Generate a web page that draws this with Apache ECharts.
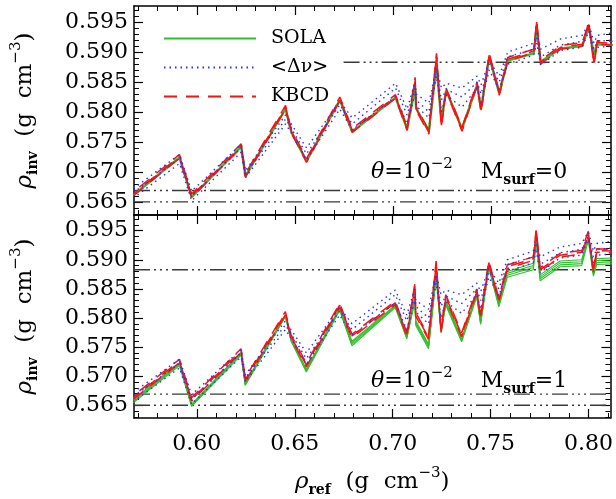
<!DOCTYPE html>
<html><head><meta charset="utf-8">
<script src="https://cdn.jsdelivr.net/npm/echarts@6/dist/echarts.min.js"></script>
<style>html,body{margin:0;padding:0;background:#fff}#c{width:616px;height:499px}</style>
</head><body><div id="c"></div>
<script>
// reference density nodes (g cm^-3)
const rhoRef = [0.5675,0.5911,0.5973,0.6226,0.6247,0.6452,0.6481,0.6559,0.6729,0.6792,
  0.7013,0.7072,0.7113,0.7118,0.7183,0.7222,0.7247,0.7271,0.7352,0.7429,
  0.7449,0.7491,0.7542,0.7585,0.7718,0.7733,0.7753,0.7855,0.7965,0.7999,
  0.8025,0.8042,0.8120];
// SOLA, M_surf = 0
const solaTop = [0.5661,0.5724,0.5658,0.5742,0.5693,0.5805,0.5767,0.5718,0.5820,0.5767,
  0.5824,0.5772,0.5840,0.5806,0.5768,0.5877,0.5785,0.5836,0.5772,0.5845,
  0.5805,0.5892,0.5831,0.5886,0.5898,0.5940,0.5884,0.5906,0.5910,0.5942,
  0.5896,0.5913,0.5912];
// SOLA, M_surf = 1 (upper solution) and spread of the family of solutions
const solaBot = [0.5660,0.5723,0.5652,0.5741,0.5688,0.5806,0.5765,0.5712,0.5818,0.5760,
  0.5822,0.5770,0.5835,0.5795,0.5755,0.5875,0.5780,0.5830,0.5765,0.5842,
  0.5795,0.5890,0.5825,0.5880,0.5894,0.5938,0.5874,0.5898,0.5900,0.5940,
  0.5880,0.5902,0.5903];
const solaBotSpread = [0.0006,0.0005,0.0004,0.0005,0.0004,0.0004,0.0005,0.0005,0.0005,0.0008,
  0.0004,0.0006,0.0006,0.0008,0.0008,0.0005,0.0006,0.0008,0.0006,0.0006,
  0.0006,0.0004,0.0006,0.0010,0.0011,0.0008,0.0010,0.0010,0.0010,0.0006,
  0.0008,0.0010,0.0010];
// KBCD
const kbcd = [0.5663,0.5726,0.5660,0.5744,0.5694,0.5808,0.5768,0.5719,0.5822,0.5769,
  0.5826,0.5772,0.5855,0.5806,0.5766,0.5895,0.5778,0.5837,0.5771,0.5847,
  0.5803,0.5895,0.5831,0.5888,0.5902,0.5950,0.5883,0.5908,0.5913,0.5946,
  0.5882,0.5916,0.5915];
const kbcdSpread = 0.0003;
// <Δν> : three solutions
const dnuHi = [0.5672,0.5729,0.5668,0.5746,0.5702,0.5795,0.5780,0.5740,0.5818,0.5790,
  0.5848,0.5805,0.5850,0.5830,0.5815,0.5875,0.5840,0.5848,0.5840,0.5860,
  0.5845,0.5885,0.5860,0.5900,0.5915,0.5935,0.5905,0.5922,0.5928,0.5948,
  0.5915,0.5928,0.5932];
const dnuMid = [0.5665,0.5722,0.5660,0.5740,0.5696,0.5788,0.5773,0.5730,0.5812,0.5780,
  0.5840,0.5795,0.5840,0.5820,0.5800,0.5870,0.5820,0.5838,0.5825,0.5850,
  0.5830,0.5880,0.5850,0.5892,0.5905,0.5925,0.5892,0.5912,0.5918,0.5940,
  0.5905,0.5918,0.5920];
const dnuLo = [0.5656,0.5714,0.5652,0.5733,0.5690,0.5780,0.5765,0.5720,0.5805,0.5770,
  0.5826,0.5780,0.5830,0.5810,0.5790,0.5860,0.5800,0.5828,0.5808,0.5840,
  0.5815,0.5870,0.5838,0.5880,0.5895,0.5915,0.5878,0.5903,0.5908,0.5935,
  0.5895,0.5908,0.5910];
// horizontal reference levels (dash-dot) and where they start in each panel
const refLevels = [0.5650, 0.5669, 0.5883];
const refStartTop = [0.5679, 0.5679, 0.6748];
const refStartBot = [0.5679, 0.5679, 0.5679];
const xTicks = [0.60, 0.65, 0.70, 0.75, 0.80];
const yTicks = [0.565, 0.570, 0.575, 0.580, 0.585, 0.590, 0.595];
const thetaLabel = '10';
const msurfValues = ['0', '1'];

const X_MIN = 0.5679, X_MAX = 0.8112, Y_MIN = 0.5628, Y_MAX = 0.5977;
const FONT = 'DejaVu Serif';

function minors(from, to, step, majors) {
  const out = [];
  for (let v = from; v <= to + 1e-9; v += step) {
    const r = Math.round(v * 10000) / 10000;
    if (!majors.some(m => Math.abs(m - r) < 1e-7)) out.push(r);
  }
  return out;
}
const xMinor = minors(0.57, 0.81, 0.01, xTicks);
const yMinor = minors(0.563, 0.597, 0.001, yTicks);

const grids = [
  {left: 134, top: 6, width: 477, height: 209},
  {left: 134, top: 215, width: 477, height: 209}
];

const nameRich = {
  rho: {fontFamily: FONT, fontSize: 23, fontStyle: 'italic', lineHeight: 32, verticalAlign: 'middle'},
  sub: {fontFamily: FONT, fontSize: 14, fontWeight: 'bold', lineHeight: 14, verticalAlign: 'bottom', padding: [0,0,1,0]},
  n: {fontFamily: FONT, fontSize: 23, lineHeight: 32, verticalAlign: 'middle'},
  sup: {fontFamily: FONT, fontSize: 15, lineHeight: 15, verticalAlign: 'top'}
};

const xAxes = [], yAxes = [];
for (let g = 0; g < 2; g++) {
  const base = {type: 'value', gridIndex: g, min: X_MIN, max: X_MAX, splitLine: {show: false}, axisPointer: {show: false}};
  xAxes.push(Object.assign({}, base, {
    position: 'bottom',
    axisLine: {show: true, onZero: false, lineStyle: {color: '#000', width: 1.5}},
    axisTick: {show: true, inside: true, length: 9, customValues: xTicks, lineStyle: {color: '#000', width: 1.2}},
    axisLabel: {show: g === 1, customValues: xTicks, margin: 15, color: '#000', fontFamily: FONT, fontSize: 22,
      formatter: v => v.toFixed(2)},
    name: g === 1 ? '{rho|ρ}{sub|ref}{n|  (g  cm}{sup|−3}{n|)}' : '',
    nameLocation: 'middle', nameGap: 48,
    nameTextStyle: {color: '#000', rich: nameRich}
  }));
  xAxes.push(Object.assign({}, base, {
    position: 'bottom', axisLine: {show: false, onZero: false},
    axisTick: {show: true, inside: true, length: 5, customValues: xMinor, lineStyle: {color: '#000', width: 1}},
    axisLabel: {show: false}
  }));
  xAxes.push(Object.assign({}, base, {
    position: 'top',
    axisLine: {show: true, onZero: false, lineStyle: {color: '#000', width: 1.5}},
    axisTick: {show: true, inside: true, length: 9, customValues: xTicks, lineStyle: {color: '#000', width: 1.2}},
    axisLabel: {show: false}
  }));
  xAxes.push(Object.assign({}, base, {
    position: 'top', axisLine: {show: false, onZero: false},
    axisTick: {show: true, inside: true, length: 5, customValues: xMinor, lineStyle: {color: '#000', width: 1}},
    axisLabel: {show: false}
  }));

  const ybase = {type: 'value', gridIndex: g, min: Y_MIN, max: Y_MAX, splitLine: {show: false}, axisPointer: {show: false}};
  yAxes.push(Object.assign({}, ybase, {
    position: 'left',
    axisLine: {show: true, onZero: false, lineStyle: {color: '#000', width: 1.5}},
    axisTick: {show: true, inside: true, length: 9, customValues: yTicks, lineStyle: {color: '#000', width: 1.2}},
    axisLabel: {show: true, customValues: yTicks, margin: 6, color: '#000', fontFamily: FONT, fontSize: 22,
      formatter: v => v.toFixed(3)},
    name: '{rho|ρ}{sub|inv}{n|  (g  cm}{sup|−3}{n|)}',
    nameLocation: 'middle', nameRotate: 90, nameGap: 93,
    nameTextStyle: {color: '#000', rich: nameRich}
  }));
  yAxes.push(Object.assign({}, ybase, {
    position: 'left', axisLine: {show: false, onZero: false},
    axisTick: {show: true, inside: true, length: 5, customValues: yMinor, lineStyle: {color: '#000', width: 1}},
    axisLabel: {show: false}
  }));
  yAxes.push(Object.assign({}, ybase, {
    position: 'right',
    axisLine: {show: true, onZero: false, lineStyle: {color: '#000', width: 1.5}},
    axisTick: {show: true, inside: true, length: 9, customValues: yTicks, lineStyle: {color: '#000', width: 1.2}},
    axisLabel: {show: false}
  }));
  yAxes.push(Object.assign({}, ybase, {
    position: 'right', axisLine: {show: false, onZero: false},
    axisTick: {show: true, inside: true, length: 5, customValues: yMinor, lineStyle: {color: '#000', width: 1}},
    axisLabel: {show: false}
  }));
}

const GREEN = '#2fc02f', RED = '#ff1010', BLUE = '#2233ff', REFC = '#3a3a3a';
function mk(name, vals, panel, style, z) {
  return {
    type: 'line', name: name, xAxisIndex: 4 * panel, yAxisIndex: 4 * panel,
    data: rhoRef.map((x, i) => [x, vals[i]]),
    symbol: 'none', showSymbol: false, silent: true, animation: false, clip: true, z: z,
    itemStyle: {color: style.color},
    lineStyle: style
  };
}
const series = [];
for (let p = 0; p < 2; p++) {
  const starts = p === 0 ? refStartTop : refStartBot;
  refLevels.forEach((lv, k) => {
    series.push({
      type: 'line', xAxisIndex: 4 * p, yAxisIndex: 4 * p, symbol: 'none', silent: true, animation: false, z: 1,
      data: [[starts[k], lv], [X_MAX, lv]],
      lineStyle: {color: REFC, width: 1.4, type: [16, 4, 2, 4, 2, 4, 2, 4]}
    });
  });
}
// SOLA
series.push(mk('SOLA', solaTop, 0, {color: GREEN, width: 2.4, type: 'solid'}, 2));
for (let k = 0; k < 4; k++) {
  series.push(mk('SOLA', solaBot.map((v, i) => v - solaBotSpread[i] * k / 3), 1,
    {color: GREEN, width: 1.1, type: 'solid'}, 2));
}
// KBCD
for (let p = 0; p < 2; p++) {
  [-1, 0, 1].forEach((k, j) => {
    series.push(mk('KBCD', kbcd.map(v => v + k * kbcdSpread), p,
      {color: RED, width: 1.5, type: [13, 9], dashOffset: j * 7}, 3));
  });
}
// <Δν>
for (let p = 0; p < 2; p++) {
  [dnuHi, dnuMid, dnuLo].forEach(arr => {
    series.push(mk('<Δν>', arr, p, {color: BLUE, width: 1.4, type: [1.5, 4]}, 4));
  });
}

const annRich = {
  th: {fontFamily: FONT, fontSize: 22, fontStyle: 'italic', lineHeight: 30, verticalAlign: 'middle'},
  n: {fontFamily: FONT, fontSize: 22, lineHeight: 30, verticalAlign: 'middle'},
  sup: {fontFamily: FONT, fontSize: 15, lineHeight: 15, verticalAlign: 'top'},
  sub: {fontFamily: FONT, fontSize: 14, fontWeight: 'bold', lineHeight: 14, verticalAlign: 'bottom'}
};
const graphics = msurfValues.map((m, p) => ({
  type: 'text', left: 371, top: (p === 0 ? 157 : 366), z: 10,
  style: {
    text: '{th|θ}{n|=' + thetaLabel + '}{sup|−2}{n|    M}{sub|surf}{n|=' + m + '}',
    rich: annRich, fill: '#000'
  }
}));

const chart = echarts.init(document.getElementById('c'), null, {renderer: 'canvas'});
chart.setOption({
  animation: false,
  backgroundColor: '#fff',
  grid: grids,
  xAxis: xAxes,
  yAxis: yAxes,
  legend: {
    data: ['SOLA', '<Δν>', 'KBCD'], orient: 'vertical', left: 163, top: 29,
    itemWidth: 92, itemHeight: 14, itemGap: 10, padding: 0, selectedMode: false,
    itemStyle: {opacity: 0},
    textStyle: {fontFamily: FONT, fontSize: 19, color: '#000', padding: [0, 0, 0, 10]}
  },
  graphic: graphics,
  series: series
});
</script></body></html>
